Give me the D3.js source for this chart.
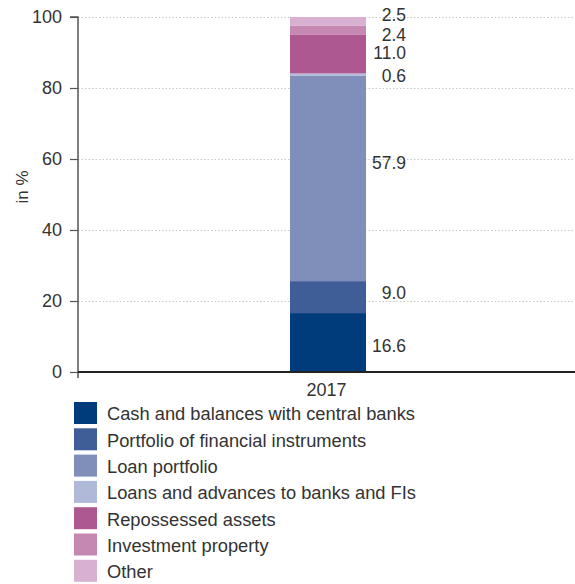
<!DOCTYPE html>
<html><head><meta charset="utf-8">
<script src="https://cdn.jsdelivr.net/npm/d3@7"></script>
<style>
html,body{margin:0;padding:0;background:#fff;}
text{font-family:"Liberation Sans",Arial,sans-serif;}
</style></head>
<body>
<svg id="chart" width="575" height="584"></svg>
<script>
const categories = ["2017"];
const seriesNames = ["Cash and balances with central banks","Portfolio of financial instruments","Loan portfolio","Loans and advances to banks and FIs","Repossessed assets","Investment property","Other"];
const seriesValues = [16.6, 9.0, 57.9, 0.6, 11.0, 2.4, 2.5];
const valueLabels = ["16.6","9.0","57.9","0.6","11.0","2.4","2.5"];
const seriesColors = ["#003b7c","#3f5e97","#7f8fba","#b1b9d9","#ad5891","#c588b3","#d8b0d1"];
const yTicks = [0,20,40,60,80,100];
// label anchor positions (in % units)
const labelAnchor = [7.3, 22.3, 58.9, 83.4, 89.9, 95.0, 100.6];

const FONT = "'Liberation Sans', Arial, sans-serif";
const svg = d3.select("#chart");
const m = {left:78, right:575, top:17, bottom:372};
const y = d3.scaleLinear().domain([0,100]).range([m.bottom, m.top]);
const x = d3.scaleBand().domain(categories).range([m.left, m.right]).paddingInner(0).paddingOuter(0.74);

// gridlines
svg.append("g").selectAll("line").data(yTicks.filter(d=>d>0)).join("line")
  .attr("x1", m.left).attr("x2", m.right)
  .attr("y1", d=>y(d)+0.5).attr("y2", d=>y(d)+0.5)
  .attr("stroke","#c8c8c8").attr("stroke-width",1).attr("stroke-dasharray","1.5,2");

// stacked bar
let cum = 0;
const stacked = seriesValues.map((v,i)=>{const s={i, y0:cum, y1:cum+v}; cum+=v; return s;});
const bx = 290, bw = 76;
const xb = d3.scaleBand().domain(categories).range([bx, bx+bw]);
svg.append("g").selectAll("rect").data(stacked).join("rect")
  .attr("x", xb("2017")).attr("width", xb.bandwidth())
  .attr("y", d=>y(d.y1)).attr("height", d=>y(d.y0)-y(d.y1))
  .attr("fill", d=>seriesColors[d.i]);

// value labels
svg.append("g").selectAll("text").data(stacked).join("text")
  .attr("x", 406).attr("y", d=>y(labelAnchor[d.i]))
  .attr("dy","0.35em").attr("text-anchor","end")
  .attr("font-size",17.5).attr("fill","#333")
  .text(d=>valueLabels[d.i]);

// y axis
const yAxis = d3.axisLeft(y).tickValues(yTicks).tickSize(8).tickPadding(8);
const gy = svg.append("g").attr("transform",`translate(${m.left},0)`).call(yAxis);
gy.select(".domain").attr("stroke","#555").attr("stroke-width",1.5).attr("d",`M-8,${y(100)}H0V${m.bottom+6}`);
gy.selectAll(".tick line").attr("stroke","#555").attr("stroke-width",1.2);
gy.selectAll(".tick text").attr("font-size",18).attr("fill","#333").attr("font-family",FONT);

// x axis
const xAxis = d3.axisBottom(x).tickSize(0).tickPadding(11);
const gx = svg.append("g").attr("transform",`translate(0,${m.bottom})`).call(xAxis);
gx.select(".domain").attr("stroke","#222").attr("stroke-width",1.8).attr("d",`M${m.left},0H${m.right}`);
gx.selectAll(".tick text").attr("font-size",18).attr("fill","#333").attr("font-family",FONT);

// y label
svg.append("text").attr("transform",`translate(22,${187}) rotate(-90)`)
  .attr("dy","0.35em")
  .attr("text-anchor","middle").attr("font-size",17).attr("fill","#333").text("in %");

// legend
const lg = svg.append("g");
const rows = lg.selectAll("g").data(seriesNames).join("g")
  .attr("transform",(d,i)=>`translate(74,${402 + i*26.3})`);
rows.append("rect").attr("width",23).attr("height",22).attr("fill",(d,i)=>seriesColors[i]);
rows.append("text").attr("x",33).attr("y",12).attr("dy","0.35em")
  .attr("font-size",18.3).attr("fill","#333").text(d=>d);
</script>
</body></html>
